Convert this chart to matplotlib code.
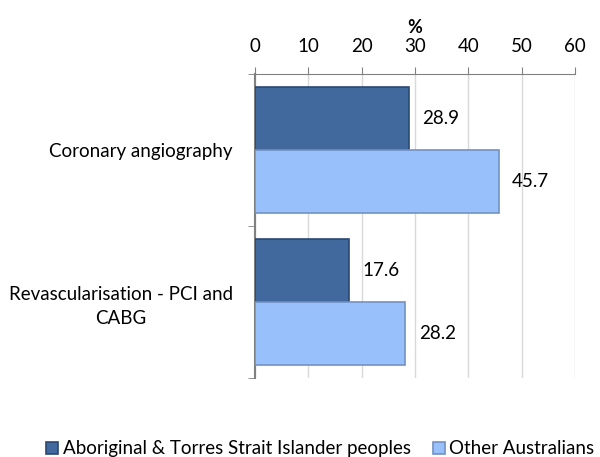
import matplotlib.pyplot as plt
import numpy as np

categories = ["Coronary angiography", "Revascularisation - PCI and\nCABG"]
series_names = ["Aboriginal & Torres Strait Islander peoples", "Other Australians"]
indigenous = [28.9, 17.6]
other = [45.7, 28.2]
xticks = [0, 10, 20, 30, 40, 50, 60]

plt.rcParams['font.family'] = ['Lato', 'DejaVu Sans']

fig = plt.figure(figsize=(6, 4.57), dpi=100)
ax = fig.add_axes([0.425, 0.1729, 0.5333, 0.6652])

y = np.arange(len(categories))
h = 0.414
b1 = ax.barh(y - h / 2, indigenous, height=h, color='#41699D', edgecolor='#2A4872',
             linewidth=1.2, label=series_names[0], zorder=3)
b2 = ax.barh(y + h / 2, other, height=h, color='#98C0FB', edgecolor='#7391C2',
             linewidth=1.2, label=series_names[1], zorder=3)

for bars, vals in ((b1, indigenous), (b2, other)):
    for bar, v in zip(bars, vals):
        ax.text(v + 2.5, bar.get_y() + bar.get_height() / 2, f"{v:.1f}",
                va='center', ha='left', fontsize=13.5)

ax.set_xlim(0, 60)
ax.set_ylim(1.5, -0.5)
ax.set_xticks(xticks)
ax.xaxis.tick_top()
ax.tick_params(axis='x', length=5, color='#808080', labelsize=13.5, pad=9)
ax.set_xlabel('%', fontweight='bold', fontsize=13, labelpad=3)
ax.xaxis.set_label_position('top')

ax.set_yticks(y)
ax.set_yticklabels(categories, fontsize=13.5, multialignment='center', linespacing=1.5)
ax.tick_params(axis='y', which='major', length=0, pad=16)
ax.set_yticks([-0.5, 0.5, 1.5], minor=True)
ax.tick_params(axis='y', which='minor', length=5, color='#808080')

ax.grid(axis='x', color='#D9D9D9', linewidth=1, zorder=0)
for s in ['right', 'bottom']:
    ax.spines[s].set_visible(False)
ax.spines['top'].set_color('#808080')
ax.spines['left'].set_color('#808080')
ax.spines['left'].set_linewidth(1.5)

fig.legend(handles=[b1, b2], loc='lower center', bbox_to_anchor=(0.534, -0.038),
           ncol=2, frameon=False, fontsize=13.5, handlelength=0.65, handleheight=0.65,
           handletextpad=0.25, columnspacing=1.15)

fig.savefig('out.png', dpi=100)
